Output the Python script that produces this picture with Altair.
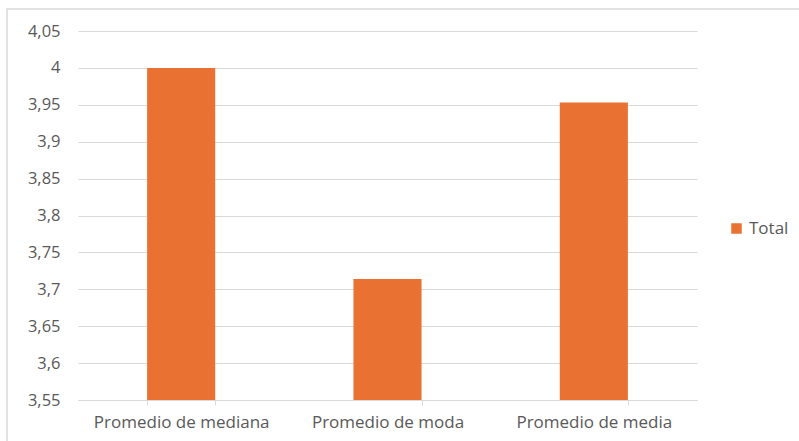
import altair as alt
import pandas as pd

categories = ["Promedio de mediana", "Promedio de moda", "Promedio de media"]
values = [4.0, 3.714, 3.953]
series = ["Total", "Total", "Total"]
y_ticks = [3.55, 3.6, 3.65, 3.7, 3.75, 3.8, 3.85, 3.9, 3.95, 4.0, 4.05]

df = pd.DataFrame({"cat": categories, "val": values, "serie": series})

FONT = "Open Sans"
GRAY = "#595959"

bars = alt.Chart(df).mark_bar(color="#E97132", clip=True).encode(
    x=alt.X("cat:N", sort=categories, title=None,
            scale=alt.Scale(paddingInner=0.67, paddingOuter=0.335),
            axis=alt.Axis(labelAngle=0, labelFont=FONT, labelFontSize=17, labelColor=GRAY,
                          domainColor="#d9d9d9", tickColor="#d9d9d9", tickBand="extent",
                          tickSize=5, labelPadding=9, grid=False, zindex=1)),
    y=alt.Y("val:Q", title=None,
            scale=alt.Scale(domain=[3.55, 4.05], zero=False, nice=False),
            axis=alt.Axis(values=y_ticks, labelExpr="replace(format(datum.value, '~g'), '.', ',')",
                          labelFont=FONT, labelFontSize=16.5, labelColor=GRAY,
                          domain=False, ticks=False, labelPadding=18,
                          gridColor="#d9d9d9", gridWidth=1)),
    color=alt.Color("serie:N", scale=alt.Scale(range=["#E97132"]),
                    legend=alt.Legend(title=None, orient="none", legendX=650, legendY=189,
                                      symbolType="square", symbolSize=110,
                                      labelFont=FONT, labelFontSize=17, labelColor=GRAY)),
)

border = alt.Chart(pd.DataFrame({"a": [0]})).mark_rect(
    fill=None, stroke="#d9d9d9", strokeWidth=1.5
).encode(x=alt.value(-71), x2=alt.value(760), y=alt.value(-22), y2=alt.value(440))

chart = alt.layer(border, bars).properties(
    width=619, height=369,
    autosize=alt.AutoSizeParams(type="none"),
    padding={"left": 78, "top": 31, "right": 102, "bottom": 41},
    background="white",
).configure_view(stroke=None)

chart.save("out.html", embed_options={"renderer": "svg", "actions": False})
